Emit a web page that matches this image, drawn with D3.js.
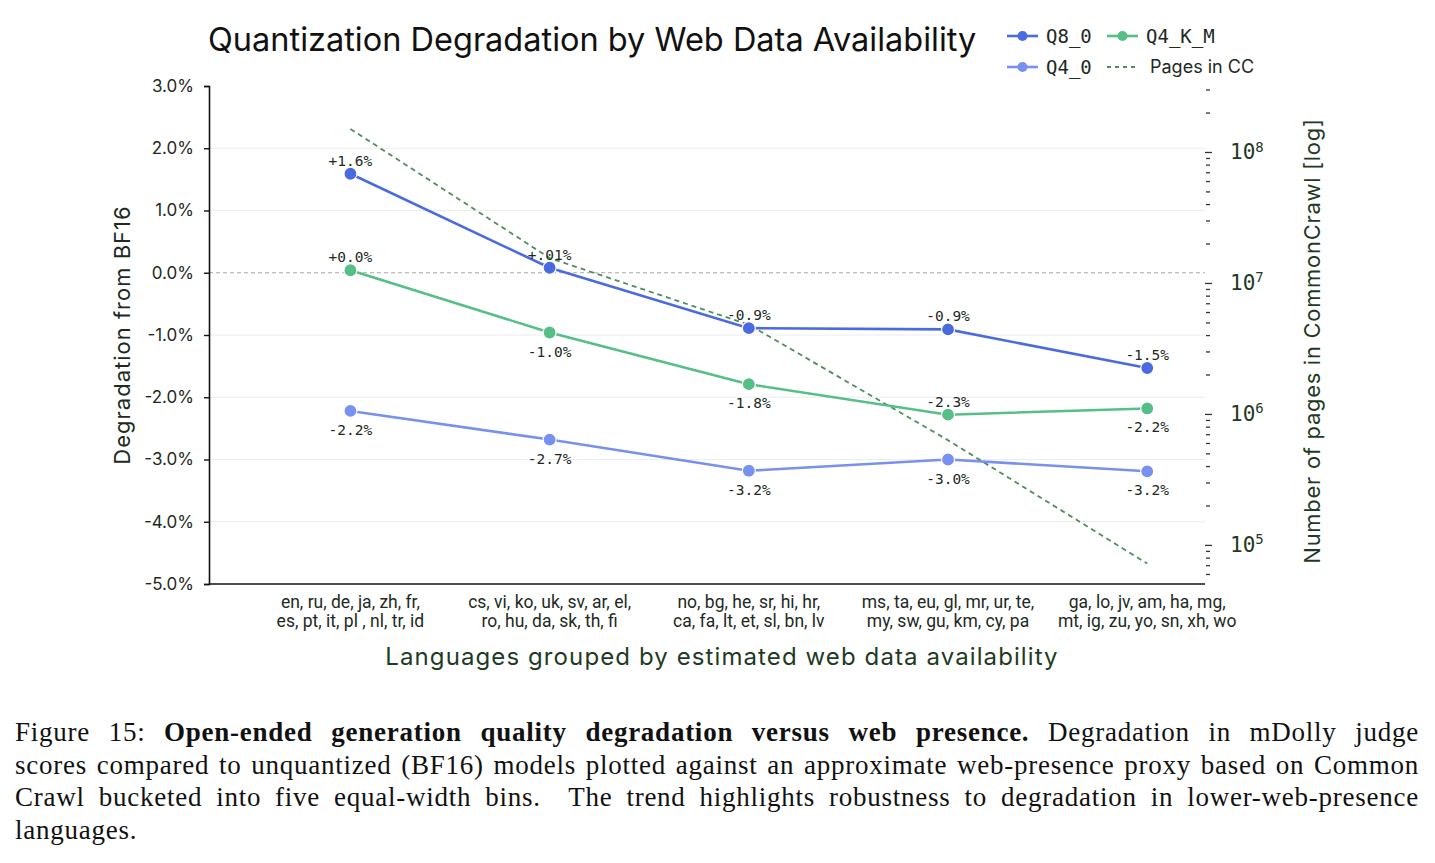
<!DOCTYPE html>
<html>
<head>
<meta charset="utf-8">
<script src="https://cdn.jsdelivr.net/npm/d3@7"></script>
<style>
    body { margin: 0; background: #fff; }
    #chart { position: absolute; left: 0; top: 0; }
    #caption {
        position: absolute; left: 15px; top: 716px; width: 1404px;
        font-family: "Liberation Serif", "DejaVu Serif", serif;
        font-size: 27px; line-height: 32.7px; letter-spacing: 0.75px; color: #111;
    }
    #caption div { text-align: justify; text-align-last: justify; white-space: nowrap; }
    #caption div.last { text-align-last: left; }
</style>
</head>
<body>
<svg id="chart" width="1435" height="700"></svg>
<div id="caption"></div>
<script>
var groups = [
    ['en, ru, de, ja, zh, fr,', 'es, pt, it, pl , nl, tr, id'],
    ['cs, vi, ko, uk, sv, ar, el,', 'ro, hu, da, sk, th, fi'],
    ['no, bg, he, sr, hi, hr,', 'ca, fa, lt, et, sl, bn, lv'],
    ['ms, ta, eu, gl, mr, ur, te,', 'my, sw, gu, km, cy, pa'],
    ['ga, lo, jv, am, ha, mg,', 'mt, ig, zu, yo, sn, xh, wo']
];

var q8 = [1.59, 0.08, -0.89, -0.91, -1.53],
    q8Labels = ['+1.6%', '+.01%', '-0.9%', '-0.9%', '-1.5%'];

var q4km = [0.04, -0.96, -1.79, -2.28, -2.18],
    q4kmLabels = ['+0.0%', '-1.0%', '-1.8%', '-2.3%', '-2.2%'];

var q40 = [-2.22, -2.68, -3.18, -3.00, -3.19],
    q40Labels = ['-2.2%', '-2.7%', '-3.2%', '-3.0%', '-3.2%'];

var pagesCC = [1.5e8, 1.55e7, 4.8e6, 6.3e5, 7.2e4];

var yTicks = [3, 2, 1, 0, -1, -2, -3, -4, -5];

var captionLines = [
    'Figure 15: <b>Open-ended generation quality degradation versus web presence.</b> Degradation in mDolly judge',
    'scores compared to unquantized (BF16) models plotted against an approximate web-presence proxy based on Common',
    'Crawl bucketed into five equal-width bins.&nbsp; The trend highlights robustness to degradation in lower-web-presence',
    'languages.'
];

var ink = '#1d2a1e',
    green = '#1f3a24',
    sans = 'Inter, "Noto Sans", sans-serif',
    narrow = 'Roboto, "Noto Sans", sans-serif',
    mono = '"DejaVu Sans Mono", monospace';

var $svg = d3.select('#chart');

var x = d3.scaleLinear().domain([-0.71, 4.29]).range([209, 1205]),
    y = d3.scaleLinear().domain([-5, 3]).range([584, 86]),
    yR = d3.scaleLog().domain([5.03e4, 3.19e8]).range([584, 86]);

// title
$svg.append('text')
    .attr('x', 208).attr('y', 51)
    .style('font-family', sans).style('font-size', '32.5px')
    .attr('fill', '#111')
    .text('Quantization Degradation by Web Data Availability');

// grid
$svg.append('g')
    .selectAll('line')
    .data(yTicks.filter(function (d) { return d !== 0 && d !== 3 && d !== -5; }))
    .join('line')
    .attr('x1', 209).attr('x2', 1205)
    .attr('y1', function (d) { return y(d); })
    .attr('y2', function (d) { return y(d); })
    .attr('stroke', '#ececec').attr('stroke-width', 1);

$svg.append('line')
    .attr('x1', 209).attr('x2', 1205)
    .attr('y1', y(0)).attr('y2', y(0))
    .attr('stroke', '#a8a8a8').attr('stroke-width', 1)
    .attr('stroke-dasharray', '4,3');

// left axis
var $yAxis = $svg.append('g')
    .attr('transform', 'translate(209,0)')
    .call(d3.axisLeft(y).tickValues(yTicks).tickSize(5).tickPadding(10)
        .tickFormat(function (d) { return d.toFixed(1) + '%'; }));
$yAxis.select('.domain').attr('stroke', '#111').attr('stroke-width', 1.6);
$yAxis.selectAll('.tick line').attr('stroke', '#111').attr('stroke-width', 1.4);
$yAxis.selectAll('.tick text')
    .style('font-family', sans).style('font-size', '17px').attr('fill', ink);

// bottom axis
$svg.append('line')
    .attr('x1', 209).attr('x2', 1205)
    .attr('y1', 584).attr('y2', 584)
    .attr('stroke', '#111').attr('stroke-width', 1.6);

var $cats = $svg.append('g')
    .selectAll('text')
    .data(groups)
    .join('text')
    .attr('text-anchor', 'middle')
    .style('font-family', narrow).style('font-size', '17.5px')
    .attr('fill', ink);
$cats.selectAll('tspan')
    .data(function (d, i) { return d.map(function (t) { return {t: t, i: i}; }); })
    .join('tspan')
    .attr('x', function (d) { return x(d.i); })
    .attr('y', function (d, j) { return 608 + j * 19; })
    .text(function (d) { return d.t; });

// right axis, log
var rTicks = [];
d3.range(4, 9).forEach(function (k) {
    d3.range(1, 10).forEach(function (m) {
        var v = m * Math.pow(10, k);
        if (v >= yR.domain()[0] && v <= yR.domain()[1]) rTicks.push(v);
    });
});
var isMajor = function (v) { return Math.abs(Math.log10(v) % 1) < 1e-9; };

var $rAxis = $svg.append('g')
    .attr('transform', 'translate(1205,0)')
    .call(d3.axisRight(yR).tickValues(rTicks).tickSize(4).tickFormat(''));
$rAxis.select('.domain').remove();
$rAxis.selectAll('.tick line')
    .attr('x1', function (d) { return isMajor(d) ? 0 : 1; })
    .attr('x2', function (d) { return isMajor(d) ? 7 : 5; })
    .attr('stroke', '#333').attr('stroke-width', 1.3);
$rAxis.selectAll('.tick')
    .filter(isMajor)
    .append('text')
    .attr('x', 25).attr('dy', '0.32em')
    .attr('text-anchor', 'start')
    .style('font-family', mono).style('font-size', '21px')
    .attr('fill', green)
    .each(function (d) {
        var t = d3.select(this);
        t.append('tspan').text('10');
        t.append('tspan').attr('dy', '-0.55em').style('font-size', '14px')
            .text(Math.round(Math.log10(d)));
    });

// axis titles
$svg.append('text')
    .attr('transform', 'translate(130,335) rotate(-90)')
    .attr('text-anchor', 'middle')
    .style('font-family', sans).style('font-size', '22px')
    .style('letter-spacing', '1px')
    .attr('fill', ink)
    .text('Degradation from BF16');

$svg.append('text')
    .attr('transform', 'translate(1320,341) rotate(-90)')
    .attr('text-anchor', 'middle')
    .style('font-family', sans).style('font-size', '22px')
    .style('letter-spacing', '0.7px')
    .attr('fill', green)
    .text('Number of pages in CommonCrawl [log]');

$svg.append('text')
    .attr('x', 722).attr('y', 665)
    .attr('text-anchor', 'middle')
    .style('font-family', sans).style('font-size', '24px')
    .style('letter-spacing', '1.1px')
    .attr('fill', green)
    .text('Languages grouped by estimated web data availability');

// pages in CC
$svg.append('path')
    .datum(pagesCC)
    .attr('fill', 'none')
    .attr('stroke', '#4f8d5d').attr('stroke-width', 1.8)
    .attr('stroke-dasharray', '5,4')
    .attr('d', d3.line()
        .x(function (d, i) { return x(i); })
        .y(function (d) { return yR(d); }));

// series
var series = [
    {vals: q40, labels: q40Labels, color: '#7890ee', side: [1, 1, 1, 1, 1]},
    {vals: q4km, labels: q4kmLabels, color: '#55bf87', side: [-1, 1, 1, -1, 1]},
    {vals: q8, labels: q8Labels, color: '#4a6be0', side: [-1, -1, -1, -1, -1]}
];

series.forEach(function (s) {
    var $g = $svg.append('g');
    $g.append('path')
        .datum(s.vals)
        .attr('fill', 'none')
        .attr('stroke', s.color).attr('stroke-width', 2.6)
        .attr('d', d3.line()
            .x(function (d, i) { return x(i); })
            .y(function (d) { return y(d); }));
    $g.selectAll('circle')
        .data(s.vals)
        .join('circle')
        .attr('cx', function (d, i) { return x(i); })
        .attr('cy', function (d) { return y(d); })
        .attr('r', 6.5)
        .attr('fill', s.color)
        .attr('stroke', '#fff').attr('stroke-width', 1.2);
    $g.selectAll('text')
        .data(s.vals)
        .join('text')
        .attr('x', function (d, i) { return x(i); })
        .attr('y', function (d, i) { return y(d) + (s.side[i] < 0 ? -8 : 24); })
        .attr('text-anchor', 'middle')
        .style('font-family', mono).style('font-size', '14.5px')
        .attr('fill', ink)
        .text(function (d, i) { return s.labels[i]; });
});

// legend
var legend = [
    {name: 'Q8_0', color: '#4a6be0', dash: null, x: 1007, y: 36},
    {name: 'Q4_K_M', color: '#55bf87', dash: null, x: 1107, y: 36},
    {name: 'Q4_0', color: '#7890ee', dash: null, x: 1007, y: 67},
    {name: 'Pages in CC', color: '#4f8d5d', dash: '4,4', x: 1107, y: 67}
];
var $legend = $svg.append('g')
    .selectAll('g')
    .data(legend)
    .join('g')
    .attr('transform', function (d) { return 'translate(' + d.x + ',' + d.y + ')'; });
$legend.append('line')
    .attr('x1', 0).attr('x2', 31)
    .attr('stroke', function (d) { return d.color; })
    .attr('stroke-width', function (d) { return d.dash ? 2.2 : 2.6; })
    .attr('stroke-dasharray', function (d) { return d.dash; });
$legend.filter(function (d) { return !d.dash; })
    .append('circle')
    .attr('cx', 15.5).attr('r', 5)
    .attr('fill', function (d) { return d.color; });
$legend.append('text')
    .attr('x', function (d) { return d.dash ? 43 : 39; })
    .attr('dy', '0.35em')
    .style('font-family', function (d) { return d.dash ? sans : mono; })
    .style('font-size', function (d) { return d.dash ? '18px' : '19px'; })
    .attr('fill', ink)
    .text(function (d) { return d.name; });

// caption
d3.select('#caption')
    .selectAll('div')
    .data(captionLines)
    .join('div')
    .classed('last', function (d, i) { return i === captionLines.length - 1; })
    .html(function (d) { return d; });
</script>
</body>
</html>
